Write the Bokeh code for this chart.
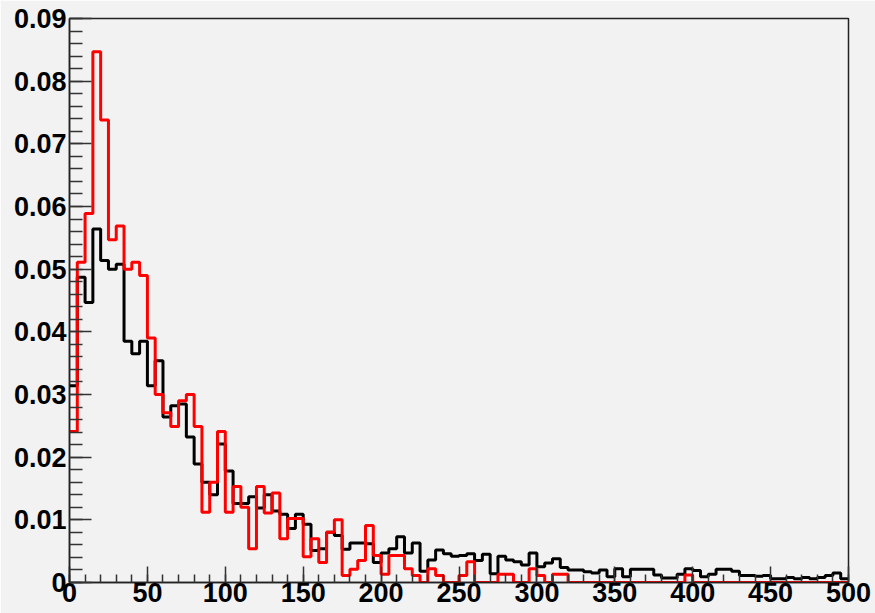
import numpy as np
from bokeh.plotting import figure
from bokeh.models import Range1d, SingleIntervalTicker, CustomJSTickFormatter
from bokeh.embed import file_html
from bokeh.resources import INLINE

# Histogram binning: 100 bins of width 5 from 0 to 500
bin_lo = 0
bin_width = 5
n_bins = 100

# Black histogram contents (per bin)
black_vals = [
    0.0314, 0.0487, 0.0447, 0.0564, 0.0514, 0.0500, 0.0508, 0.0385, 0.0365, 0.0385,
    0.0314, 0.0354, 0.0264, 0.0282, 0.0285, 0.0232, 0.0189, 0.0160, 0.0140, 0.0221,
    0.0178, 0.0126, 0.0126, 0.0137, 0.0119, 0.0140, 0.0114, 0.0109, 0.0086, 0.0109,
    0.0093, 0.0051, 0.0054, 0.0080, 0.0075, 0.0053, 0.0063, 0.0063, 0.0062, 0.0032,
    0.0047, 0.0054, 0.0073, 0.0047, 0.0063, 0.0018, 0.0036, 0.0052, 0.0046, 0.0042,
    0.0043, 0.0046, 0.0035, 0.0045, 0.0014, 0.0042, 0.0036, 0.0033, 0.0028, 0.0047,
    0.0025, 0.0031, 0.0038, 0.0024, 0.0020, 0.0020, 0.0017, 0.0015, 0.0020, 0.0009,
    0.0022, 0.0009, 0.0021, 0.0021, 0.0021, 0.0012, 0.0007, 0.0007, 0.0013, 0.0022,
    0.0019, 0.0009, 0.0013, 0.0021, 0.0021, 0.0018, 0.0011, 0.0011, 0.0010, 0.0011,
    0.0006, 0.0006, 0.0008, 0.0006, 0.0008, 0.0006, 0.0008, 0.0011, 0.0015, 0.0006,
]

# Red histogram contents (per bin)
red_vals = [
    0.0241, 0.0511, 0.0589, 0.0847, 0.0738, 0.0547, 0.0569, 0.0500, 0.0511, 0.0490,
    0.0390, 0.0300, 0.0271, 0.0249, 0.0290, 0.0300, 0.0249, 0.0112, 0.0160, 0.0241,
    0.0112, 0.0153, 0.0120, 0.0054, 0.0153, 0.0111, 0.0143, 0.0070, 0.0102, 0.0102,
    0.0041, 0.0070, 0.0032, 0.0080, 0.0100, 0.0011, 0.0021, 0.0035, 0.0091, 0.0043,
    0.0013, 0.0043, 0.0043, 0.0022, 0.0011, 0.0000, 0.0022, 0.0011, 0.0000, 0.0000,
    0.0011, 0.0033, 0.0000, 0.0000, 0.0000, 0.0013, 0.0013, 0.0000, 0.0000, 0.0022,
    0.0011, 0.0000, 0.0013, 0.0013, 0.0000, 0.0000, 0.0000, 0.0000, 0.0000, 0.0000,
    0.0000, 0.0000, 0.0000, 0.0000, 0.0000, 0.0000, 0.0000, 0.0000, 0.0000, 0.0012,
    0.0000, 0.0000, 0.0000, 0.0000, 0.0000, 0.0000, 0.0000, 0.0000, 0.0000, 0.0000,
    0.0000, 0.0000, 0.0000, 0.0000, 0.0000, 0.0000, 0.0000, 0.0000, 0.0000, 0.0000,
]

x_start, x_end = 0, 500
y_start, y_end = 0, 0.09

edges = bin_lo + bin_width * np.arange(n_bins + 1)

bg = "#f2f2f2"
font = "Liberation Sans"

p = figure(width=875, height=613, output_backend="svg", toolbar_location=None,
           x_range=Range1d(x_start, x_end), y_range=Range1d(y_start, y_end),
           min_border_left=69, min_border_right=27, min_border_top=18, min_border_bottom=31)
p.background_fill_color = bg
p.border_fill_color = bg
p.outline_line_color = "#222222"
p.outline_line_width = 1.5
p.grid.visible = False

p.step(edges, list(black_vals) + [black_vals[-1]], mode="after", line_color="black", line_width=3)
p.step(edges, list(red_vals) + [red_vals[-1]], mode="after", line_color="#ff0000", line_width=3)

xa = p.xaxis[0]
xa.ticker = SingleIntervalTicker(interval=50, num_minor_ticks=5)
xa.major_tick_in = 16
xa.major_tick_out = 0
xa.minor_tick_in = 8
xa.minor_tick_out = 0
xa.major_label_standoff = 0

ya = p.yaxis[0]
ya.ticker = SingleIntervalTicker(interval=0.01, num_minor_ticks=5)
ya.formatter = CustomJSTickFormatter(code="return tick < 1e-9 ? '0' : tick.toFixed(2);")
ya.major_tick_in = 22
ya.major_tick_out = 0
ya.minor_tick_in = 13
ya.minor_tick_out = 0
ya.major_label_standoff = 3

for ax in (xa, ya):
    ax.axis_line_color = "#222222"
    ax.axis_line_width = 1.5
    ax.major_tick_line_color = "#333333"
    ax.minor_tick_line_color = "#333333"
    ax.major_tick_line_width = 1.5
    ax.minor_tick_line_width = 1.5
    ax.major_label_text_font = font
    ax.major_label_text_font_style = "bold"
    ax.major_label_text_font_size = "27px"
    ax.major_label_text_color = "black"

open("out.html", "w").write(file_html(p, INLINE))
